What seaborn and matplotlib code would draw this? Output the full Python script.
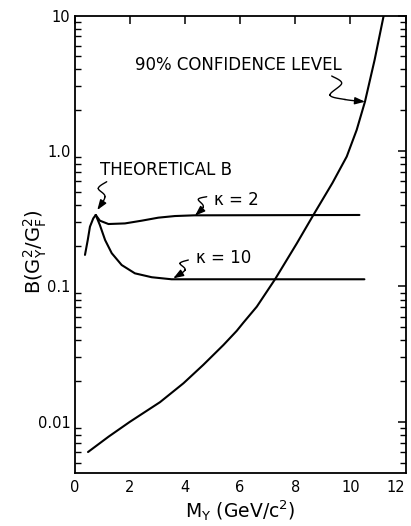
import numpy as np
import pandas as pd
import matplotlib
matplotlib.use("Agg")
import matplotlib.pyplot as plt
import seaborn as sns
from matplotlib.ticker import LogLocator, FixedLocator, NullFormatter

# 90% confidence level upper limit
cl_mass = [0.49, 1.24, 2.0, 2.37, 3.10, 3.95, 4.67, 5.40, 5.88, 6.12, 6.61, 7.27, 8.06, 8.66,
           9.35, 9.87, 10.23, 10.53, 10.88, 11.21]
cl_b = [0.0060, 0.0078, 0.0100, 0.0112, 0.0140, 0.0193, 0.0264, 0.037, 0.047, 0.054, 0.071,
        0.113, 0.208, 0.337, 0.58, 0.91, 1.43, 2.31, 4.7, 10.0]

# theoretical B, common rising part then two branches
rise_mass = [0.38, 0.48, 0.56, 0.68, 0.77]
rise_b = [0.171, 0.22, 0.276, 0.318, 0.337]

k2_mass = [0.77, 0.92, 1.23, 1.83, 2.44, 3.04, 3.64, 4.34, 10.33]
k2_b = [0.337, 0.306, 0.289, 0.292, 0.306, 0.322, 0.331, 0.335, 0.337]

k10_mass = [0.77, 0.92, 1.11, 1.35, 1.71, 2.19, 2.80, 3.52, 4.34, 10.51]
k10_b = [0.337, 0.284, 0.22, 0.176, 0.144, 0.125, 0.117, 0.113, 0.113, 0.113]

ytick_vals = [0.01, 0.1, 1.0, 10.0]
ytick_labels = ["0.01", "0.1", "1.0", "10"]
xtick_vals = [0, 2, 4, 6, 8, 10, 12]

W, H = 411, 526

sns.set_theme(style="white")
plt.rcParams['font.family'] = ['DejaVu Sans']

fig = plt.figure(figsize=(W / 100, H / 100), dpi=100)
ax = fig.add_axes([74.5 / W, (H - 473) / H, 331 / W, (473 - 15.5) / H])

curves = pd.concat([
    pd.DataFrame({'M': cl_mass, 'B': cl_b, 'curve': 'cl'}),
    pd.DataFrame({'M': rise_mass, 'B': rise_b, 'curve': 'rise'}),
    pd.DataFrame({'M': k2_mass, 'B': k2_b, 'curve': 'k2'}),
    pd.DataFrame({'M': k10_mass, 'B': k10_b, 'curve': 'k10'}),
])
sns.lineplot(data=curves, x='M', y='B', units='curve', estimator=None, sort=False,
             color='black', lw=1.5, ax=ax, legend=False)

ax.set_yscale('log')
ax.set_xlim(0, 12)
ax.set_ylim(0.0042, 10)

ax.xaxis.set_major_locator(FixedLocator(xtick_vals))
ax.set_yticks(ytick_vals)
ax.set_yticklabels(ytick_labels)
ax.yaxis.set_minor_locator(LogLocator(base=10, subs=np.arange(2, 10)))
ax.yaxis.set_minor_formatter(NullFormatter())

ax.tick_params(axis='both', which='major', direction='in', length=6, width=1.1,
               top=True, right=True, labelsize=10.5, color='black', labelcolor='black')
ax.tick_params(axis='y', which='minor', direction='in', length=4.5, width=1.0,
               left=True, right=True, color='black')
ax.tick_params(axis='x', which='major', pad=5)
ax.tick_params(axis='y', which='major', pad=3)
ax.tick_params(axis='x', which='minor', bottom=False, top=False)
ax.get_xticklabels()[-1].set_horizontalalignment('right')

for sp in ax.spines.values():
    sp.set_color('black')
    sp.set_linewidth(1.3)

ax.set_xlabel(r"M$_\mathregular{Y}$ (GeV/c$^\mathregular{2}$)", fontsize=13.5, labelpad=2, color='black')
ax.set_ylabel(r"B(G$_\mathregular{Y}^\mathregular{2}$/G$_\mathregular{F}^\mathregular{2}$)",
              fontsize=14, color='black')
# label sits between the 0.1 and 1.0 tick labels, as in the original
ax.yaxis.set_label_coords(-0.078, 0.484)

# annotation text (positions in data units)
txt = dict(fontsize=12, color='black', va='center', ha='left')
ax.text(2.2, 4.3, "90% CONFIDENCE LEVEL", **txt)
ax.text(0.93, 0.724, "THEORETICAL B", **txt)
ax.text(5.04, 0.435, "\u03ba = 2", **txt)
ax.text(4.39, 0.162, "\u03ba = 10", **txt)


def catmull(pts, n=20):
    pts = np.asarray(pts, float)
    p = np.vstack([pts[0], pts, pts[-1]])
    out = []
    for i in range(1, len(p) - 2):
        t = np.linspace(0, 1, n)[:, None]
        p0, p1, p2, p3 = p[i - 1], p[i], p[i + 1], p[i + 2]
        out.append(0.5 * ((2 * p1) + (-p0 + p2) * t + (2 * p0 - 5 * p1 + 4 * p2 - p3) * t ** 2
                          + (-p0 + 3 * p1 - 3 * p2 + p3) * t ** 3))
    return np.vstack(out)


def squiggle(pix):
    # pixel points from top-left -> figure pixels
    pts = [(x, H - y) for x, y in pix]
    c = catmull(pts)
    fig.add_artist(plt.Line2D(c[:-4, 0] / W, c[:-4, 1] / H, color='black', lw=1.0,
                              transform=fig.transFigure))
    ax.annotate("", xy=c[-1], xytext=c[-6], xycoords='figure pixels', textcoords='figure pixels',
                arrowprops=dict(arrowstyle='-|>,head_length=0.5,head_width=0.18', color='black',
                                lw=1.0, shrinkA=0, shrinkB=0))


squiggle([(331.7, 76), (341.7, 83.3), (330, 95), (345, 99.5), (365, 101.7)])
squiggle([(106.7, 181.7), (98.3, 188.3), (105, 196.7), (97.3, 210)])
squiggle([(206.7, 196.7), (198.3, 199.3), (203.3, 206.7), (195, 215.7)])
squiggle([(188.3, 260), (180, 263.3), (185, 270), (173.3, 278.3)])

fig.savefig("out.png", dpi=100, facecolor='white')
